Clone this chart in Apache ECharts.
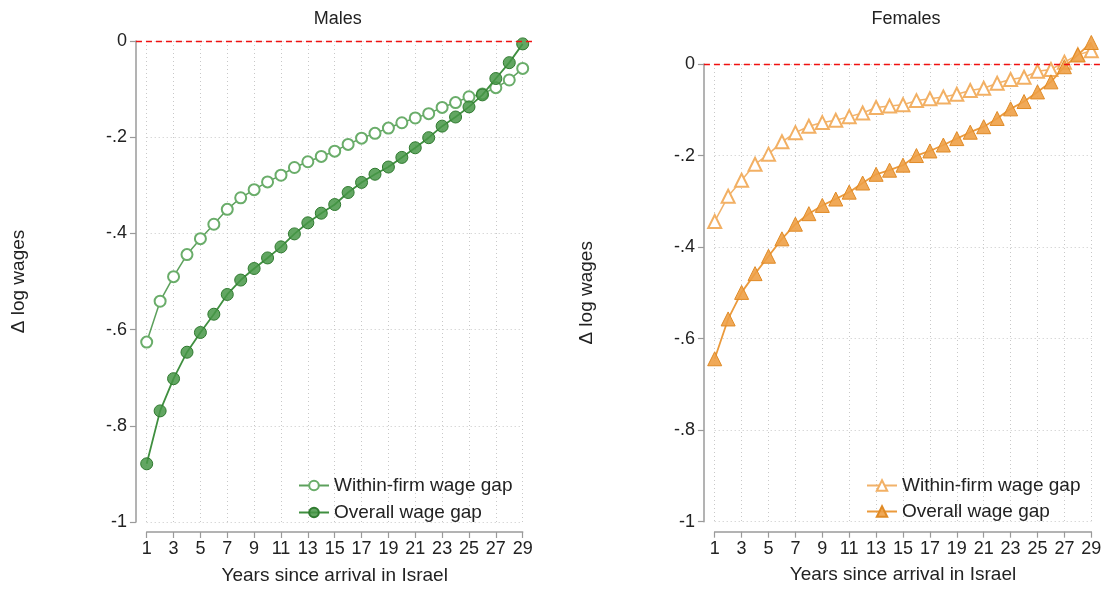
<!DOCTYPE html>
<html>
<head>
<meta charset="utf-8">
<script src="https://cdn.jsdelivr.net/npm/echarts@6/dist/echarts.min.js"></script>
<style>
  html, body { margin: 0; padding: 0; background: #fff; }
  #chart { width: 1106px; height: 590px; }
</style>
</head>
<body>
<div id="chart"></div>
<script>
// years since arrival
var years = [1,2,3,4,5,6,7,8,9,10,11,12,13,14,15,16,17,18,19,20,21,22,23,24,25,26,27,28,29];

// males
var maleWithin = [-0.626,-0.541,-0.490,-0.444,-0.411,-0.381,-0.350,-0.326,-0.309,-0.293,-0.279,-0.263,-0.251,-0.240,-0.229,
                  -0.215,-0.202,-0.192,-0.181,-0.170,-0.160,-0.151,-0.138,-0.128,-0.116,-0.110,-0.097,-0.081,-0.057];
var maleOverall = [-0.879,-0.769,-0.702,-0.647,-0.606,-0.568,-0.527,-0.497,-0.473,-0.451,-0.428,-0.401,-0.378,-0.358,-0.340,
                   -0.315,-0.294,-0.277,-0.262,-0.242,-0.222,-0.201,-0.177,-0.158,-0.137,-0.112,-0.078,-0.045,-0.006];

// females
var femaleWithin = [-0.344,-0.289,-0.254,-0.219,-0.197,-0.170,-0.150,-0.136,-0.128,-0.123,-0.115,-0.107,-0.095,-0.092,-0.089,
                    -0.080,-0.076,-0.072,-0.066,-0.058,-0.053,-0.042,-0.034,-0.029,-0.016,-0.012,0.004,0.020,0.029];
var femaleOverall = [-0.644,-0.557,-0.499,-0.458,-0.420,-0.382,-0.350,-0.327,-0.309,-0.295,-0.280,-0.260,-0.241,-0.232,-0.221,
                     -0.200,-0.190,-0.177,-0.163,-0.149,-0.137,-0.119,-0.098,-0.082,-0.061,-0.039,-0.006,0.020,0.047];

var legendNames = {
    mWithin: 'Within-firm wage gap', mOverall: 'Overall wage gap',
    fWithin: 'Within-firm wage gap', fOverall: 'Overall wage gap'
};

var pairs = function (ys) {
    return years.map(function (x, i) { return [x, ys[i]]; });
};

var FONT = 'Liberation Sans';

// pixel frames of the tick ranges (x 1..29, y -1..0)
var panels = [
    {title: 'Males',   x0: 146.7, x1: 522.7,  yTop: 41, yBot: 522,   ymax: 0.027},
    {title: 'Females', x0: 714.7, x1: 1091.3, yTop: 64, yBot: 521.7, ymax: 0.08}
];

var grids = [], xAxes = [], yAxes = [], titles = [];
panels.forEach(function (p, k) {
    var sx = (p.x1 - p.x0) / 28, sy = (p.yBot - p.yTop);
    // axis frame grid
    grids.push({left: p.x0, top: p.yTop, width: p.x1 - p.x0, height: p.yBot - p.yTop});
    // plot region grid
    grids.push({left: p.x0 - 0.8 * sx, top: p.yTop - p.ymax * sy, width: 29.5 * sx, height: (p.ymax + 1.015) * sy});

    xAxes.push({
        gridIndex: 2 * k, type: 'value', position: 'bottom', min: 1, max: 29, interval: 2, offset: 10,
        name: 'Years since arrival in Israel', nameLocation: 'middle', nameGap: 34,
        nameTextStyle: {fontFamily: FONT, fontSize: 19, color: '#222'},
        axisLine: {show: true, onZero: false, lineStyle: {color: '#9a9a9a', width: 1.5}},
        axisTick: {show: true, length: 6, lineStyle: {color: '#9a9a9a', width: 1.2}},
        axisLabel: {fontFamily: FONT, fontSize: 18, color: '#222', margin: 8},
        splitLine: {show: true, lineStyle: {color: '#c8c8c8', type: [1, 3], width: 1}}
    });
    xAxes.push({gridIndex: 2 * k + 1, type: 'value', min: 0.2, max: 29.7, show: false,
                axisLine: {onZero: false}});

    yAxes.push({
        gridIndex: 2 * k, type: 'value', position: 'left', min: -1, max: 0, interval: 0.2, offset: 0.8 * sx,
        name: 'Δ log wages', nameLocation: 'middle', nameGap: 108,
        nameTextStyle: {fontFamily: FONT, fontSize: 19, color: '#222'},
        axisLine: {show: true, onZero: false, lineStyle: {color: '#9a9a9a', width: 1.5}},
        axisTick: {show: true, length: 6, lineStyle: {color: '#9a9a9a', width: 1.2}},
        axisLabel: {
            fontFamily: FONT, fontSize: 18, color: '#222', margin: 9,
            formatter: function (v) {
                v = Math.round(v * 10) / 10;
                if (v === 0) return '0';
                return (v < 0 ? '-' : '') + String(Math.abs(v)).replace(/^0/, '');
            }
        },
        splitLine: {show: true, lineStyle: {color: '#c8c8c8', type: [1, 3], width: 1}}
    });
    yAxes.push({gridIndex: 2 * k + 1, type: 'value', min: -1.015, max: p.ymax, show: false,
                axisLine: {onZero: false}});

    titles.push({
        text: p.title, left: (p.x0 + p.x1) / 2 - 2, top: 5, textAlign: 'center',
        textStyle: {fontFamily: FONT, fontSize: 18, fontWeight: 'normal', color: '#222'}
    });
});

var green = '#3f8f3f', orange = '#eb9a3c';

// red reference line at zero, one empty carrier series per panel
var zeroSeries = function (k) {
    return {
        type: 'line', xAxisIndex: 2 * k + 1, yAxisIndex: 2 * k + 1, data: [], z: 6, silent: true,
        markLine: {
            silent: true, symbol: ['none', 'none'], label: {show: false},
            lineStyle: {color: '#f01010', type: [6, 4], width: 1.3, opacity: 1},
            emphasis: {disabled: true},
            data: [{yAxis: 0}]
        }
    };
};

var chart = echarts.init(document.getElementById('chart'));
chart.setOption({
    backgroundColor: '#fff',
    animation: false,
    title: titles,
    grid: grids,
    xAxis: xAxes,
    yAxis: yAxes,
    legend: [
        {
            data: ['mWithin', 'mOverall'], orient: 'vertical', left: 293, top: 471,
            itemWidth: 30, itemHeight: 12, itemGap: 8,
            formatter: function (n) { return legendNames[n]; },
            textStyle: {fontFamily: FONT, fontSize: 19, color: '#222'}
        },
        {
            data: ['fWithin', 'fOverall'], orient: 'vertical', left: 861, top: 471,
            itemWidth: 30, itemHeight: 13, itemGap: 7,
            formatter: function (n) { return legendNames[n]; },
            textStyle: {fontFamily: FONT, fontSize: 19, color: '#222'}
        }
    ],
    series: [
        {
            name: 'mWithin', type: 'line', xAxisIndex: 1, yAxisIndex: 1, clip: false,
            data: pairs(maleWithin), symbol: 'emptyCircle', symbolSize: 11,
            lineStyle: {color: 'rgba(63,143,63,0.85)', width: 1.5},
            itemStyle: {color: '#6aad6a', borderColor: '#6aad6a', borderWidth: 1},
            z: 3
        },
        {
            name: 'mOverall', type: 'line', xAxisIndex: 1, yAxisIndex: 1, clip: false,
            data: pairs(maleOverall), symbol: 'circle', symbolSize: 12,
            lineStyle: {color: green, width: 1.8},
            itemStyle: {color: 'rgba(70,150,70,0.85)', borderColor: '#2f7a2f', borderWidth: 1},
            z: 4
        },
        {
            name: 'fWithin', type: 'line', xAxisIndex: 3, yAxisIndex: 3, clip: false,
            data: pairs(femaleWithin), symbol: 'emptyTriangle', symbolSize: 13,
            lineStyle: {color: 'rgba(240,170,90,0.9)', width: 1.5},
            itemStyle: {color: '#f2b064', borderColor: '#f2b064', borderWidth: 1},
            z: 3
        },
        {
            name: 'fOverall', type: 'line', xAxisIndex: 3, yAxisIndex: 3, clip: false,
            data: pairs(femaleOverall), symbol: 'triangle', symbolSize: 14,
            lineStyle: {color: orange, width: 1.8},
            itemStyle: {color: 'rgba(238,160,70,0.9)', borderColor: '#e08a25', borderWidth: 1},
            z: 4
        },
        zeroSeries(0),
        zeroSeries(1)
    ]
});
</script>
</body>
</html>
